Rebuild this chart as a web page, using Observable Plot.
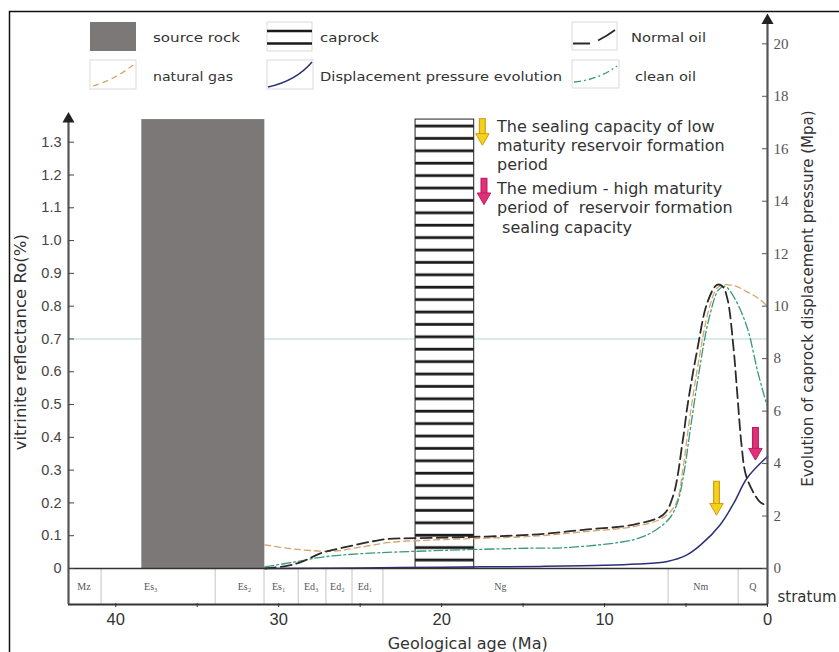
<!DOCTYPE html>
<html><head><meta charset="utf-8">
<script src="https://cdn.jsdelivr.net/npm/d3@7"></script>
<script src="https://cdn.jsdelivr.net/npm/@observablehq/plot@0.6"></script>
<style>
html,body{margin:0;padding:0;background:#fff;}
#chart{position:relative;width:839px;height:652px;}
</style></head><body><div id="chart"></div>
<script>
// ---------- data ----------
const RATIO = 0.08;          // Ro (%) per MPa on the twin (right) axis
const STRIP_BOTTOM = -0.11;  // bottom of the stratum band, in Ro units
const AGE_MAX = 42.9;
const LEFT_AXIS_TOP = 1.38;
const RIGHT_AXIS_TOP_MPA = 21;

const ageTicks = [40, 30, 20, 10, 0];
const ageMinorTicks = [35, 25, 15, 5];
const roTicks = [0, 0.1, 0.2, 0.3, 0.4, 0.5, 0.6, 0.7, 0.8, 0.9, 1.0, 1.1, 1.2, 1.3];
const mpaTicks = [0, 2, 4, 6, 8, 10, 12, 14, 16, 18, 20];

const stratumNames = ["Mz", "Es\u2083", "Es\u2082", "Es\u2081", "Ed\u2083", "Ed\u2082", "Ed\u2081", "Ng", "Nm", "Q"];
const stratumLabelAges = [41.95, 37.85, 32.1, 30.0, 28.0, 26.4, 24.7, 16.4, 4.1, 0.9];
const stratumBoundaries = [40.9, 33.9, 30.9, 28.8, 27.1, 25.5, 23.6, 6.1, 1.8];

const sourceRock = [{from: 38.4, to: 30.85, top: 1.369}];
const caprock = [{from: 21.6, to: 18.0, top: 1.369}];
const ro07 = [0.7];

// [age Ma, Ro %]
const naturalGas = [[30.85,0.072],[29.5,0.062],[28.6,0.057],[26.6,0.053],[25,0.065],[23.1,0.08],[20,0.088],[14.5,0.098],[11.3,0.112],[8.2,0.128],[6.4,0.155],[5.6,0.2],[5.2,0.3],[4.8,0.45],[4.2,0.64],[3.6,0.79],[3.1,0.855],[2.7,0.865],[2.0,0.862],[1.3,0.845],[0.6,0.825],[0,0.80]];
const normalOil = [[30.85,0.0],[29.5,0.008],[28.6,0.02],[27.4,0.047],[26.2,0.062],[23.9,0.086],[23.3,0.09],[20,0.094],[14.5,0.103],[11.3,0.118],[8.2,0.134],[6.4,0.164],[5.8,0.22],[5.2,0.39],[4.9,0.50],[4.3,0.67],[3.7,0.81],[3.1,0.865],[2.75,0.86],[2.45,0.82],[2.1,0.68],[1.85,0.53],[1.6,0.38],[1.35,0.29],[0.9,0.235],[0.5,0.205],[0.2,0.195]];
const cleanOil = [[30.85,0.005],[29,0.02],[27.3,0.035],[25,0.045],[20,0.055],[14.5,0.062],[12.3,0.064],[8.2,0.088],[7.0,0.113],[6.0,0.154],[5.5,0.205],[5.1,0.30],[4.75,0.42],[4.2,0.6],[3.6,0.76],[3.0,0.85],[2.6,0.86],[2.05,0.827],[1.25,0.735],[0.6,0.60],[0.05,0.50]];
// [age Ma, displacement pressure MPa]
const displacement = [[30.85,0],[25,0.02],[20,0.05],[14,0.08],[10,0.12],[8,0.17],[6.15,0.27],[5,0.5],[4.1,0.9],[2.9,1.67],[2.07,2.49],[1.25,3.45],[0,4.27]];

const yellowArrows = [{age: 17.5, top: 1.372, tip: 1.296}, {age: 3.13, top: 0.266, tip: 0.168}];
const pinkArrows = [{age: 17.4, top: 1.19, tip: 1.115}, {age: 0.74, top: 0.43, tip: 0.336}];

const note1 = "The sealing capacity of low\nmaturity reservoir formation\nperiod";
const note2 = "The medium - high maturity\nperiod of  reservoir formation\n\u00a0sealing capacity";

// ---------- build ----------
const rows = (pairs) => pairs.map(([age, v]) => ({age, v}));
const stratumLabels = stratumNames.map((name, i) => ({name, age: stratumLabelAges[i]}));
const SANS = "DejaVu Sans, sans-serif";

function fatArrow(data, fill, edge) {
  return [
    Plot.ruleX(data, {x: "age", y1: "top", y2: "tip", insetBottom: 9, stroke: edge, strokeWidth: 7}),
    Plot.ruleX(data, {x: "age", y1: "top", y2: "tip", insetBottom: 9, insetTop: 1, stroke: fill, strokeWidth: 4.5}),
    Plot.dot(data, {x: "age", y: "tip", symbol: "triangle", rotate: 180, r: 5, dy: -6, fill: fill, stroke: edge, strokeWidth: 1})
  ];
}

const plot = Plot.plot({
  width: 839, height: 652,
  marginLeft: 68, marginRight: 72, marginTop: 0, marginBottom: 49,
  x: {domain: [AGE_MAX, 0]},
  y: {domain: [0, 1.3], range: [568, 141.7]},
  style: {background: "transparent", fontFamily: SANS, overflow: "visible"},
  marks: [
    Plot.ruleY(ro07, {stroke: "#c8e4e6", strokeWidth: 1.6}),
    Plot.rect(sourceRock, {x1: "from", x2: "to", y1: 0, y2: "top", fill: "#7d7878"}),
    Plot.rect(caprock, {x1: "from", x2: "to", y1: 0, y2: "top", fill: "url(#capHatch)", stroke: "#222", strokeWidth: 1}),
    Plot.line(rows(naturalGas), {x: "age", y: "v", curve: "catmull-rom", stroke: "#d9a46a", strokeWidth: 1.3, strokeDasharray: "6,4"}),
    Plot.line(rows(cleanOil), {x: "age", y: "v", curve: "catmull-rom", stroke: "#3a9a78", strokeWidth: 1.3, strokeDasharray: "9,3,2,3"}),
    Plot.line(rows(normalOil), {x: "age", y: "v", curve: "catmull-rom", stroke: "#2b2b2b", strokeWidth: 1.8, strokeDasharray: "11,5"}),
    Plot.line(rows(displacement), {x: "age", y: (d) => d.v * RATIO, curve: "catmull-rom", stroke: "#2c2f78", strokeWidth: 1.5}),
    // stratum band
    Plot.ruleX(stratumBoundaries, {y1: 0, y2: STRIP_BOTTOM, stroke: "#b5b5b5", strokeWidth: 0.8}),
    Plot.text(stratumLabels, {x: "age", y: STRIP_BOTTOM / 2, text: "name", fontFamily: "Liberation Serif, DejaVu Serif, serif", fontSize: 10, fill: "#555"}),
    Plot.ruleY([0], {stroke: "#333", strokeWidth: 1.6}),
    Plot.ruleY([STRIP_BOTTOM], {stroke: "#333", strokeWidth: 2}),
    // axis lines with arrow heads
    Plot.ruleX([AGE_MAX], {y1: STRIP_BOTTOM, y2: LEFT_AXIS_TOP, stroke: "#555", strokeWidth: 2.2}),
    Plot.ruleX([0], {y1: STRIP_BOTTOM, y2: RIGHT_AXIS_TOP_MPA * RATIO, stroke: "#555", strokeWidth: 2.2}),
    Plot.dot([LEFT_AXIS_TOP], {x: AGE_MAX, y: (d) => d, symbol: "triangle", r: 4.5, dy: 3, fill: "#222"}),
    Plot.dot([RIGHT_AXIS_TOP_MPA * RATIO], {x: 0, y: (d) => d, symbol: "triangle", r: 4.5, dy: 3, fill: "#222"}),
    // arrows
    ...fatArrow(yellowArrows, "#f3d21c", "#d99a14"),
    ...fatArrow(pinkArrows, "#e0307a", "#c01d60"),
    // annotations
    Plot.text([note1], {x: 16.6, y: 1.374, text: (d) => d, textAnchor: "start", lineAnchor: "top", lineHeight: 1.2, fontSize: 16, fill: "#333", fontWeight: 500}),
    Plot.text([note2], {x: 16.6, y: 1.183, text: (d) => d, textAnchor: "start", lineAnchor: "top", lineHeight: 1.2, fontSize: 16, fill: "#333", fontWeight: 500}),
    // axes
    Plot.axisY(roTicks, {anchor: "left", tickSize: 6, dx: 6, tickPadding: 7, fontSize: 14.5, fontFamily: "Liberation Sans, Arial, sans-serif", color: "#444", label: null,
      tickFormat: (d) => d === 0 ? "0" : d.toFixed(1)}),
    Plot.axisY(mpaTicks.map((p) => p * RATIO), {anchor: "right", tickSize: 6, dx: -6, tickPadding: 6, fontSize: 15, fontFamily: "Liberation Serif, serif", color: "#555", label: null,
      tickFormat: (d) => String(Math.round(d / RATIO))}),
    Plot.axisX(ageTicks, {anchor: "bottom", tickSize: 4, tickPadding: 6, fontSize: 16.5, fontFamily: "Liberation Sans, Arial, sans-serif", color: "#333", label: null}),
    Plot.axisX(ageMinorTicks, {anchor: "bottom", tickSize: 4, text: null, color: "#333", label: null}),
    // titles
    Plot.text(["Geological age (Ma)"], {x: 18.4, frameAnchor: "bottom", dy: 45, text: (d) => d, fontSize: 16, fill: "#333"}),
    Plot.text(["vitrinite reflectance Ro(%)"], {frameAnchor: "left", dx: -48, y: 0.69, rotate: -90, textAnchor: "middle", text: (d) => d, fontSize: 16.5, fill: "#333"}),
    Plot.text(["Evolution of caprock displacement pressure (Mpa)"], {frameAnchor: "right", dx: 41, y: 0.823, rotate: -90, textAnchor: "middle", text: (d) => d, fontSize: 15, fill: "#333"}),
    Plot.text(["stratum"], {frameAnchor: "right", dx: 10, y: -0.088, textAnchor: "start", text: (d) => d, fontSize: 15, fill: "#333"})
  ]
});

document.getElementById("chart").appendChild(plot);

// ---------- decorations: hatch pattern, outer frame, legend ----------
const svg = d3.select(plot);
const defs = svg.insert("defs", ":first-child");
const pat = defs.append("pattern").attr("id", "capHatch").attr("patternUnits", "userSpaceOnUse")
  .attr("x", 0).attr("y", 554).attr("width", 20).attr("height", 12.4);
pat.append("rect").attr("width", 20).attr("height", 12.4).attr("fill", "#fff");
pat.append("rect").attr("y", 4.6).attr("width", 20).attr("height", 2.8).attr("fill", "#1a1a1a");

svg.append("path").attr("d", "M9.5,652 V11.5 H839").attr("fill", "none").attr("stroke", "#111").attr("stroke-width", 1.5);

const lg = svg.append("g").attr("font-family", SANS).attr("font-size", 13).attr("fill", "#333").attr("text-anchor", "start");
const box = (x, y, w, h) => lg.append("rect").attr("x", x).attr("y", y).attr("width", w).attr("height", h).attr("fill", "#fff").attr("stroke", "#d0d0d0").attr("stroke-width", 0.8);
// source rock
lg.append("rect").attr("x", 90).attr("y", 22).attr("width", 46).attr("height", 29).attr("fill", "#7d7878");
// caprock
box(267, 22, 45, 29);
lg.append("line").attr("x1", 267).attr("x2", 312).attr("y1", 31).attr("y2", 31).attr("stroke", "#1a1a1a").attr("stroke-width", 2.6);
lg.append("line").attr("x1", 267).attr("x2", 312).attr("y1", 43.5).attr("y2", 43.5).attr("stroke", "#1a1a1a").attr("stroke-width", 2.6);
// natural gas
box(90, 60, 46, 29);
lg.append("path").attr("d", "M93,86 Q114,80 133,65").attr("fill", "none").attr("stroke", "#d9a46a").attr("stroke-width", 1.3).attr("stroke-dasharray", "6,4");
// displacement
box(267, 60, 46, 29);
lg.append("path").attr("d", "M268,87 Q296,81 312,62").attr("fill", "none").attr("stroke", "#2c2f78").attr("stroke-width", 1.5);
// normal oil
box(572, 22, 45, 28);
lg.append("path").attr("d", "M573,43.5 L590,43.5 M598,40.5 Q607,36 615,30").attr("fill", "none").attr("stroke", "#2b2b2b").attr("stroke-width", 1.8);
// clean oil
box(572, 60, 47, 28);
lg.append("path").attr("d", "M574,82 Q598,80 617,66").attr("fill", "none").attr("stroke", "#3a9a78").attr("stroke-width", 1.3).attr("stroke-dasharray", "7,3,2,3");
// legend texts
const lt = (x, y, s, w) => lg.append("text").attr("x", x).attr("y", y).attr("dy", "0.35em").attr("textLength", w).attr("lengthAdjust", "spacingAndGlyphs").text(s);
lt(153, 37, "source rock", 87);
lt(320, 37, "caprock", 59);
lt(153, 76, "natural gas", 80);
lt(320, 76, "Displacement pressure evolution", 242);
lt(631, 37, "Normal oil", 75);
lt(635, 76, "clean oil", 61);
</script>
</body></html>
